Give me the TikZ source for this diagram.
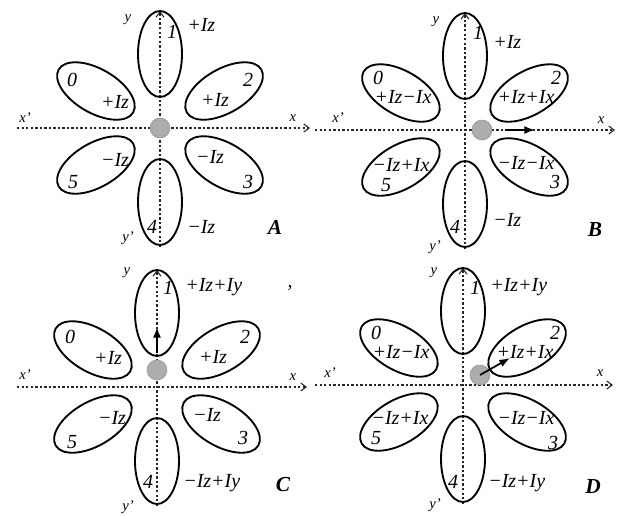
\documentclass[tikz,border=0pt]{standalone}
\usepackage{fontspec}
\setmainfont{Liberation Serif}
\usetikzlibrary{shapes.geometric,arrows.meta}
\tikzset{
 petal/.style={draw, ellipse, line width=1.4pt, minimum width=64.5pt, minimum height=33pt, inner sep=0pt},
 axisline/.style={line width=0.9pt, dash pattern=on 1.8pt off 1.6pt, black!85},
 axisarrow/.style={axisline, -{Straight Barb[length=4pt,width=6pt,line width=0.8pt]}},
 lab/.style={inner sep=0pt, font=\itshape\fontsize{15}{15}\selectfont},
 axlab/.style={inner sep=0pt, font=\itshape\fontsize{11}{11}\selectfont},
 panelname/.style={inner sep=0pt, font=\bfseries\itshape\fontsize{16}{16}\selectfont},
 graydot/.style={circle, fill=black!32, draw=black!42, line width=0.4pt, minimum size=15pt, inner sep=0pt},
 vec/.style={line width=1.3pt, -{Latex[length=8pt,width=6pt]}},
}
\newcommand\flowerbase[2]{%
 \coordinate (#1-xs) at (#2,0);
 \coordinate (#1-xe) at (150,0);
 \coordinate (#1-ys) at (0,-119);
 \coordinate (#1-ye) at (0,117);
 \draw[axisarrow] (#1-xs) -- (#1-xe);
 \draw[axisarrow] (#1-ys) -- (#1-ye);
 \foreach \n/\ang in {1/90,2/30,3/-30,4/-90,5/210,0/150}
   {\node[petal, rotate=\ang] (#1-e\n) at (\ang:74) {};}
}
\begin{document}
\begin{tikzpicture}[x=0.75pt,y=0.75pt]
\useasboundingbox (0,0) rectangle (618,-515);
% ---------------- A
\begin{scope}[shift={(160,-128)}]
 \flowerbase{A}{-143}
 \node[graydot] (A-c) at (0,0) {};
 \node[axlab] (A-y) at (-32,108) {y};
 \node[axlab] (A-yp) at (-32,-110) {y'};
 \node[axlab] (A-xp) at (-135,10) {x'};
 \node[axlab] (A-x) at (133,10) {x};
 \node[lab] (A-n1) at (12,96) {1};
 \node[lab, anchor=west] (A-t1) at (27,103) {+Iz};
 \node[lab] (A-n0) at (-88,48) {0};
 \node[lab] (A-t0) at (-45,26) {+Iz};
 \node[lab] (A-n2) at (88,48) {2};
 \node[lab] (A-t2) at (55,28) {+Iz};
 \node[lab] (A-t5) at (-45,-32) {−Iz};
 \node[lab] (A-n5) at (-87,-54) {5};
 \node[lab] (A-t3) at (50,-29) {−Iz};
 \node[lab] (A-n3) at (88,-54) {3};
 \node[lab] (A-n4) at (-8,-99) {4};
 \node[lab, anchor=west] (A-t4) at (27,-99) {−Iz};
 \node[panelname] (A-name) at (115,-99) {A};
\end{scope}
% ---------------- B
\begin{scope}[shift={(465,-130)}]
 \flowerbase{B}{-150}
 \node[graydot] (B-c) at (17,0) {};
 \coordinate (B-v0) at (40,0);
 \coordinate (B-v1) at (70,0);
 \draw[vec] (B-v0) -- (B-v1);
 \node[axlab] (B-y) at (-29,108) {y};
 \node[axlab] (B-yp) at (-30,-117) {y'};
 \node[axlab] (B-xp) at (-127,12) {x'};
 \node[axlab] (B-x) at (136,10) {x};
 \node[lab] (B-n1) at (13,97) {1};
 \node[lab, anchor=west] (B-t1) at (28,88) {+Iz};
 \node[lab] (B-n0) at (-87,52) {0};
 \node[lab] (B-t0) at (-62,33) {+Iz−Ix};
 \node[lab] (B-n2) at (91,52) {2};
 \node[lab] (B-t2) at (61,33) {+Iz+Ix};
 \node[lab] (B-t5) at (-64,-35) {−Iz+Ix};
 \node[lab] (B-n5) at (-79,-55) {5};
 \node[lab] (B-t3) at (61,-33) {−Iz−Ix};
 \node[lab] (B-n3) at (90,-52) {3};
 \node[lab] (B-n4) at (-10,-97) {4};
 \node[lab, anchor=west] (B-t4) at (28,-90) {−Iz};
 \node[panelname] (B-name) at (130,-100) {B};
\end{scope}
% ---------------- C
\begin{scope}[shift={(157,-387)}]
 \flowerbase{C}{-140}
 \node[graydot] (C-c) at (0,17) {};
 \coordinate (C-v0) at (0,34);
 \coordinate (C-v1) at (0,60);
 \draw[vec] (C-v0) -- (C-v1);
 \node[axlab] (C-y) at (-30,114) {y};
 \node[axlab] (C-yp) at (-29,-120) {y'};
 \node[axlab] (C-xp) at (-132,12) {x'};
 \node[axlab] (C-x) at (136,10) {x};
 \node[lab] (C-n1) at (11,99) {1};
 \node[lab, anchor=west] (C-t1) at (28,100) {+Iz+Iy};
 \node[lab] (C-comma) at (133,99) {,};
 \node[lab] (C-n0) at (-87,50) {0};
 \node[lab] (C-t0) at (-49,29) {+Iz};
 \node[lab] (C-n2) at (88,50) {2};
 \node[lab] (C-t2) at (56,30) {+Iz};
 \node[lab] (C-t5) at (-45,-31) {−Iz};
 \node[lab] (C-n5) at (-85,-55) {5};
 \node[lab] (C-t3) at (50,-28) {−Iz};
 \node[lab] (C-n3) at (86,-51) {3};
 \node[lab] (C-n4) at (-9,-95) {4};
 \node[lab, anchor=west] (C-t4) at (26,-96) {−Iz+Iy};
 \node[panelname] (C-name) at (126,-98) {C};
\end{scope}
% ---------------- D
\begin{scope}[shift={(463,-385)}]
 \flowerbase{D}{-148}
 \node[graydot] (D-c) at (17,10) {};
 \coordinate (D-v1) at (47,27);
 \draw[vec] (D-c.center) -- (D-v1);
 \node[axlab] (D-y) at (-29,112) {y};
 \node[axlab] (D-yp) at (-28,-120) {y'};
 \node[axlab] (D-xp) at (-133,12) {x'};
 \node[axlab] (D-x) at (137,12) {x};
 \node[lab] (D-n1) at (12,97) {1};
 \node[lab, anchor=west] (D-t1) at (27,98) {+Iz+Iy};
 \node[lab] (D-n0) at (-87,52) {0};
 \node[lab] (D-t0) at (-62,33) {+Iz−Ix};
 \node[lab] (D-n2) at (92,52) {2};
 \node[lab] (D-t2) at (62,33) {+Iz+Ix};
 \node[lab] (D-t5) at (-63,-33) {−Iz+Ix};
 \node[lab] (D-n5) at (-87,-53) {5};
 \node[lab] (D-t3) at (63,-33) {−Iz−Ix};
 \node[lab] (D-n3) at (90,-58) {3};
 \node[lab] (D-n4) at (-10,-97) {4};
 \node[lab, anchor=west] (D-t4) at (25,-98) {−Iz+Iy};
 \node[panelname] (D-name) at (130,-102) {D};
\end{scope}
\end{tikzpicture}
\end{document}
